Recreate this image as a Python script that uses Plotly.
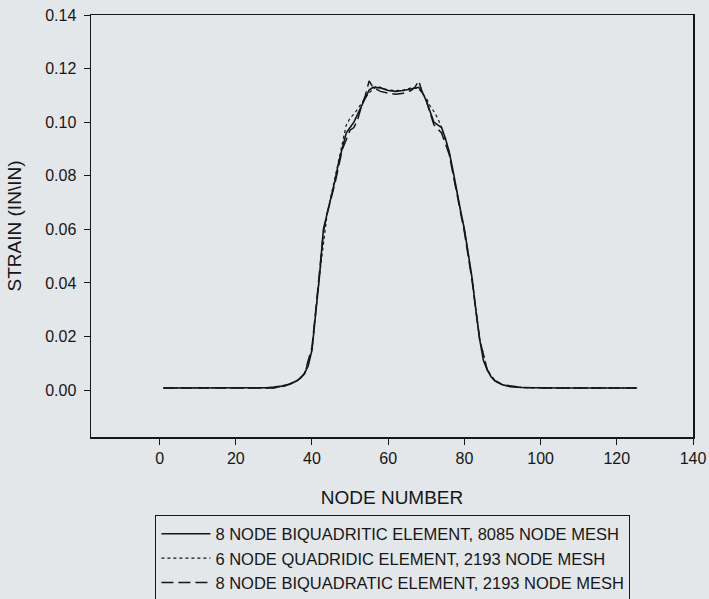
import plotly.graph_objects as go

# Series 1: 8 node biquadritic element, 8085 node mesh (solid)
x_fine = [1, 5, 10, 15, 20, 25, 28, 30, 32, 34, 36, 37, 38, 39, 40, 41, 42, 43, 44, 45,
          46, 47, 48, 49, 50, 51, 52, 53, 54, 55, 56, 58, 60, 62, 64, 66, 68, 69, 70, 71,
          72, 73, 74, 75, 76, 77, 78, 79, 80, 81, 82, 83, 84, 85, 86, 87, 88, 90, 92, 95,
          100, 105, 110, 115, 120, 125]
y_fine = [0.0008, 0.0008, 0.0008, 0.0008, 0.0008, 0.0008, 0.0009, 0.0011, 0.0015, 0.0022,
          0.0035, 0.0045, 0.0062, 0.009, 0.015, 0.029, 0.043, 0.060, 0.066, 0.071,
          0.078, 0.085, 0.091, 0.096, 0.098, 0.100, 0.103, 0.106, 0.109, 0.112,
          0.113, 0.1128, 0.1118, 0.1115, 0.1118, 0.1125, 0.113, 0.111, 0.108, 0.104,
          0.100, 0.099, 0.098, 0.094, 0.089, 0.082, 0.074, 0.067, 0.060, 0.051,
          0.042, 0.030, 0.019, 0.011, 0.0075, 0.005, 0.0035, 0.002, 0.0013, 0.001,
          0.0008, 0.0008, 0.0008, 0.0008, 0.0008, 0.0008]

# Series 2: 6 node quadridic element, 2193 node mesh (dotted)
x_quad6 = [1, 10, 20, 30, 34, 36, 38, 40, 42, 44, 46, 48, 49, 50, 51, 53, 55, 57, 60, 62,
           64, 66, 68, 70, 71, 72, 73, 74, 76, 78, 80, 82, 84, 86, 88, 90, 95, 100, 110,
           120, 125]
y_quad6 = [0.0008, 0.0008, 0.0008, 0.0008, 0.002, 0.0034, 0.006, 0.015, 0.043, 0.066,
           0.079, 0.092, 0.099, 0.1015, 0.103, 0.107, 0.111, 0.1135, 0.112, 0.1118,
           0.112, 0.1128, 0.1125, 0.109, 0.106, 0.104, 0.1015, 0.098, 0.089, 0.074,
           0.060, 0.042, 0.019, 0.0075, 0.0035, 0.002, 0.001, 0.0008, 0.0008,
           0.0008, 0.0008]

# Series 3: 8 node biquadratic element, 2193 node mesh (dashed)
x_quad8 = [1, 10, 20, 30, 33, 36, 38, 40, 41, 42, 43, 44, 46, 48, 50, 51, 52, 53, 54, 55,
           56, 58, 60, 62, 64, 66, 67, 68, 69, 70, 71, 72, 73, 74, 76, 78, 80, 82, 84, 86,
           88, 90, 95, 100, 110, 120, 126]
y_quad8 = [0.0008, 0.0008, 0.0008, 0.0008, 0.0016, 0.0033, 0.006, 0.016, 0.030, 0.044,
           0.059, 0.066, 0.077, 0.090, 0.097, 0.098, 0.101, 0.106, 0.110, 0.1154,
           0.113, 0.1115, 0.1108, 0.1104, 0.1108, 0.1118, 0.113, 0.1154, 0.111, 0.108,
           0.103, 0.099, 0.0975, 0.096, 0.088, 0.073, 0.059, 0.041, 0.019, 0.0075,
           0.0035, 0.002, 0.001, 0.0008, 0.0008, 0.0008, 0.0008]

names = ["8 NODE BIQUADRITIC ELEMENT, 8085 NODE MESH",
         "6 NODE QUADRIDIC ELEMENT, 2193 NODE MESH",
         "8 NODE BIQUADRATIC ELEMENT, 2193 NODE MESH"]

x_ticks = [0, 20, 40, 60, 80, 100, 120, 140]
y_ticks = [0.00, 0.02, 0.04, 0.06, 0.08, 0.10, 0.12, 0.14]

ink = "#161616"
bg = "#e3e7ea"
font = "Liberation Sans, Arial, sans-serif"

fig = go.Figure()
fig.add_trace(go.Scatter(x=x_fine, y=y_fine, mode="lines", name=names[0],
                         line=dict(color=ink, width=1.6, dash="solid")))
fig.add_trace(go.Scatter(x=x_quad6, y=y_quad6, mode="lines", name=names[1],
                         line=dict(color=ink, width=1.2, dash="dot")))
fig.add_trace(go.Scatter(x=x_quad8, y=y_quad8, mode="lines", name=names[2],
                         line=dict(color=ink, width=1.5, dash="12px,5px")))

fig.update_layout(
    width=709, height=599,
    margin=dict(l=91, r=16, t=15, b=162, autoexpand=False),
    paper_bgcolor=bg, plot_bgcolor=bg,
    font=dict(family=font, color=ink, size=16),
    showlegend=True,
    legend=dict(x=0.107, y=-0.186, xanchor="left", yanchor="top",
                bgcolor=bg, bordercolor=ink, borderwidth=1,
                font=dict(size=16.5, family=font, color=ink),
                itemwidth=49, tracegroupgap=0),
    xaxis=dict(range=[-18, 140], tickmode="array", tickvals=x_ticks,
               automargin=False,
               ticks="outside", ticklen=6, tickwidth=1, tickcolor=ink,
               showline=True, linecolor=ink, linewidth=1.5, mirror=True,
               showgrid=False, zeroline=False,
               tickfont=dict(size=16),
               title=dict(text="NODE NUMBER", font=dict(size=19), standoff=25)),
    yaxis=dict(range=[-0.0175, 0.14], tickmode="array", tickvals=y_ticks,
               tickformat=".2f", automargin=False, ticklabelstandoff=4,
               ticks="outside", ticklen=6, tickwidth=1, tickcolor=ink,
               showline=True, linecolor=ink, linewidth=1.5, mirror=True,
               showgrid=False, zeroline=False,
               tickfont=dict(size=16),
               title=dict(text="STRAIN (IN\\IN)", font=dict(size=19), standoff=18)),
)

page_fix = ("document.body.style.margin='0';"
            "document.body.style.padding='0';"
            "document.body.style.overflow='hidden';"
            "document.body.style.background='" + bg + "';")

fig.write_html("out.html", post_script=page_fix,
               config={"displayModeBar": False, "staticPlot": True})
